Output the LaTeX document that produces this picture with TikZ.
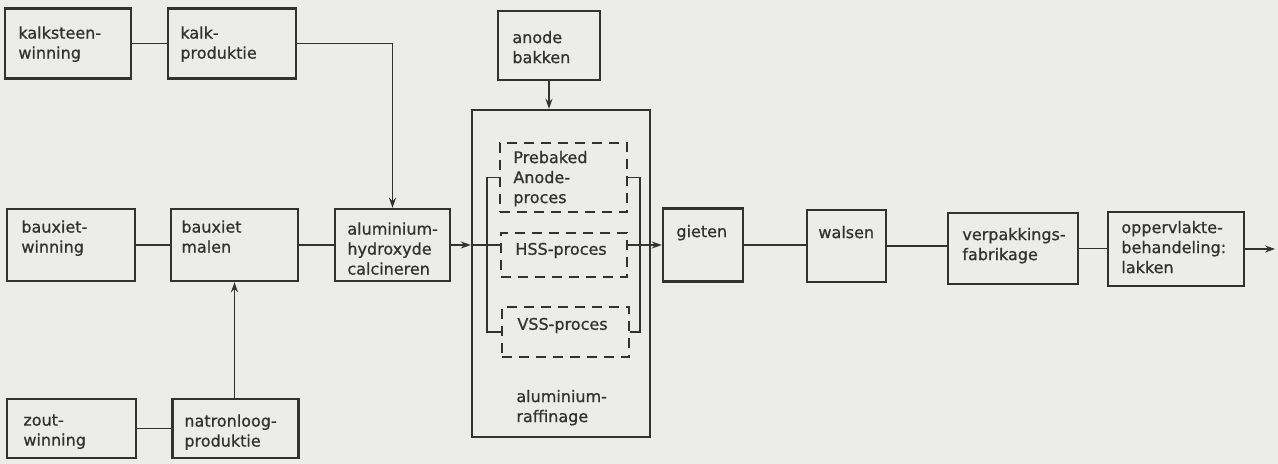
\documentclass[tikz,border=0pt]{standalone}
\usepackage{fontspec}
\setmainfont{DejaVu Sans}[FakeBold=0.8]
\usetikzlibrary{arrows.meta}
\definecolor{paper}{RGB}{236,236,234}
\definecolor{ink}{RGB}{50,50,50}
\tikzset{
  box/.style={draw=ink, line width=1.2pt, inner sep=0pt},
  proc/.style={draw=ink, line width=0.7pt, dash pattern=on 5pt off 3.5pt, inner sep=0pt},
  txt/.style={anchor=north west, inner sep=0pt, align=left, text=ink, font=\fontsize{8}{10}\selectfont},
  link/.style={draw=ink, line width=0.75pt},
  >={Stealth[length=5pt,width=3.5pt]}
}
\begin{document}
\begin{tikzpicture}[x=0.5pt,y=-0.5pt]
    \fill[paper] (0,0) rectangle (1278,464);
    \useasboundingbox (0,0) rectangle (1278,464);
    % grondstoffen
    \node[box, minimum width=63pt, minimum height=35pt] (kw) at (68,43.5) {};
    \node[box, minimum width=64pt, minimum height=35pt] (kp) at (232,43.5) {};
    \node[box, minimum width=64pt, minimum height=36pt] (bw) at (71,245) {};
    \node[box, minimum width=63.5pt, minimum height=36pt] (bm) at (234.5,245) {};
    \node[box, minimum width=57.5pt, minimum height=36pt] (ah) at (392.5,245) {};
    \node[box, minimum width=64.5pt, minimum height=29.5pt] (zw) at (71.5,428.5) {};
    \node[box, minimum width=63pt, minimum height=29.5pt] (nl) at (235.5,428.5) {};
    \node[txt] (kwt) at (18,26) {kalksteen-\\winning};
    \node[txt] (kpt) at (180,26) {kalk-\\produktie};
    \node[txt] (bwt) at (21,220) {bauxiet-\\winning};
    \node[txt] (bmt) at (181,220) {bauxiet\\malen};
    \node[txt] (aht) at (347,222) {aluminium-\\hydroxyde\\calcineren};
    \node[txt] (zwt) at (23,414) {zout-\\winning};
    \node[txt] (nlt) at (184,414) {natronloog-\\produktie};
    % raffinage
    \node[box, minimum width=51pt, minimum height=34.5pt] (ab) at (549,45.5) {};
    \node[box, minimum width=89pt, minimum height=163.5pt] (raf) at (561,273.5) {};
    \node[proc, minimum width=63.5pt, minimum height=34.5pt] (pre) at (563.5,177.5) {};
    \node[proc, minimum width=63pt, minimum height=22pt] (hss) at (564,255) {};
    \node[proc, minimum width=63.5pt, minimum height=25pt] (vss) at (565.5,332) {};
    \node[txt] (abt) at (512,30.5) {anode\\bakken};
    \node[txt] (pret) at (513,150.5) {Prebaked\\Anode-\\proces};
    \node[txt] (hsst) at (515,242.5) {HSS-proces};
    \node[txt] (vsst) at (517,317.5) {VSS-proces};
    \node[txt] (raft) at (516,389.5) {aluminium-\\raffinage};
    % verwerking
    \node[box, minimum width=40pt, minimum height=36.5pt] (gi) at (703,245) {};
    \node[box, minimum width=39.5pt, minimum height=36pt] (wa) at (846.5,246) {};
    \node[box, minimum width=65pt, minimum height=35.5pt] (vf) at (1013,248.5) {};
    \node[box, minimum width=68pt, minimum height=37pt] (ol) at (1176,249) {};
    \node[txt] (git) at (676,224.5) {gieten};
    \node[txt] (wat) at (818,225.5) {walsen};
    \node[txt] (vft) at (962,227.5) {verpakkings-\\fabrikage};
    \node[txt] (olt) at (1121,220.5) {oppervlakte-\\behandeling:\\lakken};
    % verbindingen
    \coordinate (lbus) at (487,245);
    \coordinate (rbus) at (640,245);
    \coordinate (out) at (1275,249);
    \draw[link] (kw.east) -- (kw.east -| kp.west);
    \draw[link, ->] (kp.east) -| (ah.north);
    \draw[link] (bw.east) -- (bw.east -| bm.west);
    \draw[link] (bm.east) -- (bm.east -| ah.west);
    \draw[link] (zw.east) -- (zw.east -| nl.west);
    \draw[link, ->] (nl.north -| bm.south) -- (bm.south);
    \draw[link, ->] (ab.south) -- (ab.south |- raf.north);
    \draw[link, ->] (ah.east) -- (ah.east -| raf.west);
    \draw[link] (ah.east -| raf.west) -- (lbus);
    \draw[link] (pre.west) -| (lbus) |- (vss.west);
    \draw[link] (lbus) -- (lbus -| hss.west);
    \draw[link] (pre.east) -| (rbus) |- (vss.east);
    \draw[link] (rbus -| hss.east) -- (rbus);
    \draw[link, ->] (rbus) -- (rbus -| gi.west);
    \draw[link] (gi.east) -- (gi.east -| wa.west);
    \draw[link] (wa.east) -- (wa.east -| vf.west);
    \draw[link] (vf.east) -- (vf.east -| ol.west);
    \draw[link, ->] (ol.east) -- (out);
\end{tikzpicture}
\end{document}
